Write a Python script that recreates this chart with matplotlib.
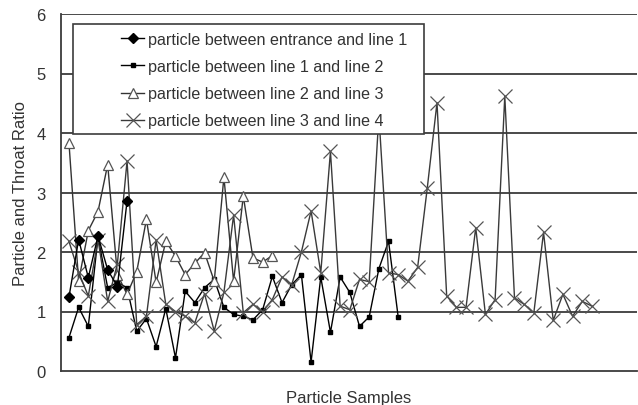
import matplotlib
matplotlib.use("Agg")
import matplotlib.pyplot as plt
import numpy as np
from matplotlib.patches import Rectangle

plt.rcParams['font.family'] = ['Liberation Sans', 'DejaVu Sans']

# ---- data (particle / throat ratio per sample) ----
entrance_line1 = [1.24, 2.21, 1.57, 2.27, 1.70, 1.42, 2.86]

line1_line2 = [0.56, 1.07, 0.75, 2.25, 1.40, 1.49, 1.40, 0.67, 0.88, 0.41,
               1.05, 0.22, 1.34, 1.15, 1.40, 1.54, 1.07, 0.95, 0.92, 0.86,
               1.03, 1.59, 1.15, 1.45, 1.62, 0.15, 1.58, 0.65, 1.58, 1.32,
               0.75, 0.91, 1.72, 2.18, 0.90]

line2_line3 = [3.84, 1.51, 2.36, 2.68, 3.47, 1.62, 1.29, 1.67, 2.55, 1.49,
               2.18, 1.93, 1.62, 1.81, 1.99, 1.51, 3.26, 1.51, 2.94, 1.90,
               1.83, 1.94]

line3_line4 = [2.18, 1.66, 1.26, 2.21, 1.17, 1.80, 3.53, 0.78, 0.92, 2.20,
               1.12, 1.00, 0.92, 0.81, 1.30, 0.67, 1.32, 2.62, 0.98, 1.12,
               1.00, 1.20, 1.58, 1.45, 2.00, 2.69, 1.65, 3.69, 1.09, 1.03,
               1.54, 1.50, 4.30, 1.65, 1.62, 1.51, 1.74, 3.08, 4.51, 1.26,
               1.07, 1.07, 2.41, 0.95, 1.20, 4.62, 1.23, 1.12, 0.98, 2.33,
               0.85, 1.29, 0.92, 1.17, 1.09]

labels = ["particle between entrance and line 1",
          "particle between line 1 and line 2",
          "particle between line 2 and line 3",
          "particle between line 3 and line 4"]
yticks = [0, 1, 2, 3, 4, 5, 6]

fig = plt.figure(figsize=(6.38, 4.06), dpi=100)
ax = fig.add_axes([61/638, 34/406, (637-61)/638, (391-34)/406])

def xs(v):
    return np.arange(1, len(v) + 1)

h1, = ax.plot(xs(entrance_line1), entrance_line1, color='black', lw=1.0,
              marker='D', ms=5.5, mfc='black', mec='black', zorder=4)
h2, = ax.plot(xs(line1_line2), line1_line2, color='black', lw=1.0,
              marker='s', ms=2.8, mfc='black', mec='black', zorder=3)
h3, = ax.plot(xs(line2_line3), line2_line3, color='#333333', lw=1.0,
              marker='^', ms=6.8, mfc='white', mec='#555555', mew=0.9, zorder=3)
h4, = ax.plot(xs(line3_line4), line3_line4, color='#3a3a3a', lw=1.0,
              marker='x', ms=10.5, mec='#555555', mew=0.9, zorder=3)

ax.set_xlim(0.18, 59.65)
ax.set_ylim(0, 6)
ax.set_yticks(yticks)
ax.set_xticks([])
for y in yticks[1:]:
    ax.axhline(y, color='#3c3c3c', lw=1.3, zorder=1)

for s in ['top', 'right']:
    ax.spines[s].set_visible(False)
ax.spines['left'].set_color('#3c3c3c')
ax.spines['bottom'].set_color('#3c3c3c')
ax.spines['left'].set_linewidth(1.3)
ax.spines['bottom'].set_linewidth(1.3)
ax.tick_params(axis='y', length=0, pad=11, labelsize=12, labelcolor='#333333')

ax.set_ylabel("Particle and Throat Ratio", fontsize=12, color='#333333', labelpad=6)
ax.set_xlabel("Particle Samples", fontsize=12, color='#333333', labelpad=14)

# legend box
box = Rectangle(((73-61)/576, (372-135)/357), (424-73)/576, (135-25)/357,
                transform=ax.transAxes, facecolor='white', edgecolor='#3c3c3c',
                lw=1.2, zorder=6)
ax.add_patch(box)
leg = ax.legend([h1, h2, h3, h4], labels, loc='upper left',
                bbox_to_anchor=((121-61)/576, (372-33)/357),
                frameon=False, fontsize=11.6, handlelength=1.45,
                handletextpad=0.22, borderpad=0, borderaxespad=0,
                labelspacing=0.75)
leg.set_zorder(7)
for t in leg.get_texts():
    t.set_color('#333333')

fig.savefig("out.png", dpi=100)
